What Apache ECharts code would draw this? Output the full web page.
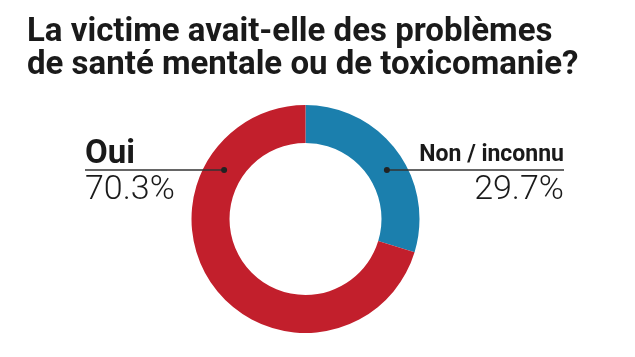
<!DOCTYPE html>
<html><head><meta charset="utf-8">
<script src="https://cdn.jsdelivr.net/npm/echarts@6/dist/echarts.min.js"></script>
<style>html,body{margin:0;padding:0;background:#fff}#c{width:635px;height:357px}</style>
</head><body><div id="c"></div>
<script>
const titleLines = ['La victime avait-elle des problèmes', 'de santé mentale ou de toxicomanie?'];
const categories = ['Non / inconnu', 'Oui'];
const values = [29.7, 70.3];
const colors = ['#1b7fad', '#c21f2c'];

const CX = 305.5, CY = 219, R_IN = 76, R_OUT = 114;
const LINE_Y = 170;
const R_MID = (R_IN + R_OUT) / 2;
const DOT_DX = Math.sqrt(R_MID * R_MID - (CY - LINE_Y) * (CY - LINE_Y));
const LEFT_X = 85, RIGHT_X = 564;

const chart = echarts.init(document.getElementById('c'));
const total = values.reduce((a, b) => a + b, 0);

function dotX(i) {
  let acc = 0;
  for (let k = 0; k < i; k++) acc += values[k];
  const mid = (acc + values[i] / 2) / total;
  return mid > 0.5 ? CX - DOT_DX : CX + DOT_DX;
}

const pieData = categories.map((c, i) => ({ name: c, value: values[i], itemStyle: { color: colors[i] } }));

chart.setOption({
  animation: false,
  title: {
    text: titleLines.join('\n'),
    left: 22, top: 11,
    textStyle: { fontFamily: 'Roboto', fontWeight: 'bold', fontSize: 33, lineHeight: 33, color: '#1a1a1a' }
  },
  graphic: categories.map((c, i) => ({
    type: 'circle', shape: { cx: dotX(i), cy: LINE_Y, r: 3 }, style: { fill: '#222' }, z: 100
  })),
  series: [{
    type: 'pie',
    center: [CX, CY],
    radius: [R_IN, R_OUT],
    startAngle: 90,
    clockwise: true,
    silent: true,
    z: 1,
    label: { show: false },
    labelLine: { show: false },
    data: pieData
  }, {
    type: 'pie',
    center: [CX, CY],
    radius: [R_IN, R_OUT],
    startAngle: 90,
    clockwise: true,
    silent: true,
    z: 5,
    itemStyle: { color: 'rgba(0,0,0,0)' },
    data: categories.map((c, i) => ({ name: c, value: values[i] })),
    label: {
      show: true,
      formatter: p => '{n' + p.dataIndex + '|' + p.name + '}\n{v|' + p.value.toFixed(1) + '%}',
      rich: {
        n0: { fontFamily: 'Roboto', fontWeight: 'bold', fontSize: 23, lineHeight: 30, color: '#1a1a1a' },
        n1: { fontFamily: 'Roboto', fontWeight: 'bold', fontSize: 33, lineHeight: 30, color: '#1a1a1a' },
        v: { fontFamily: 'Roboto', fontWeight: 300, fontSize: 34, lineHeight: 40, color: '#1a1a1a' }
      }
    },
    labelLine: { show: true, lineStyle: { color: '#333', width: 1.5 } },
    labelLayout: function (params) {
      const i = params.dataIndex;
      const dx = dotX(i);
      const left = dx < CX;
      const endX = left ? LEFT_X : RIGHT_X;
      return {
        x: endX,
        y: LINE_Y - 30,
        align: left ? 'left' : 'right',
        verticalAlign: 'top',
        labelLinePoints: [[dx, LINE_Y], [dx, LINE_Y], [endX, LINE_Y]]
      };
    }
  }]
});
</script></body></html>
